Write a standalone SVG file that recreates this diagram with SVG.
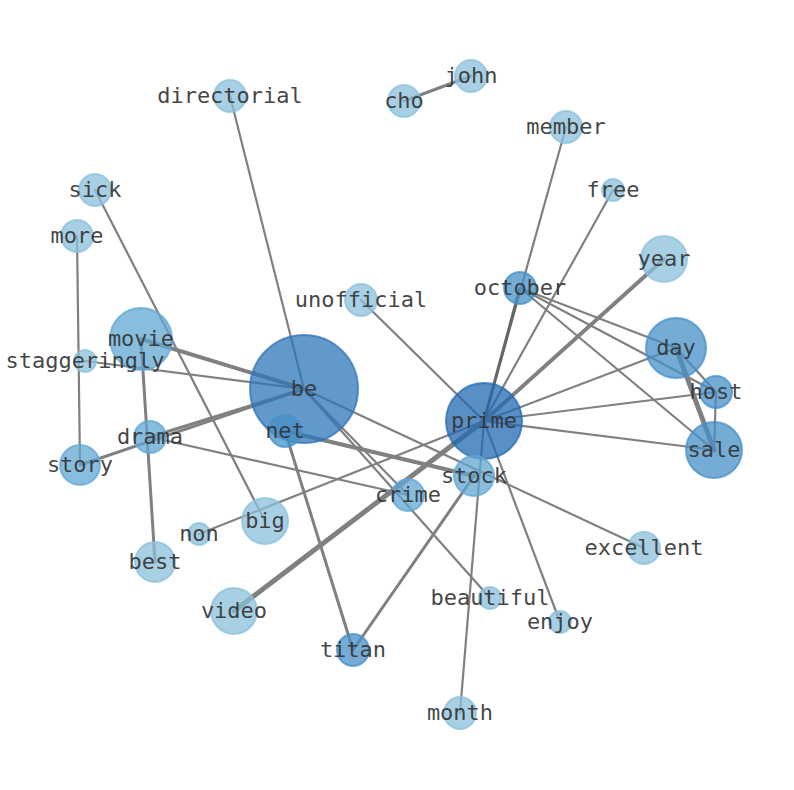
<svg xmlns="http://www.w3.org/2000/svg" width="794" height="790" viewBox="0 0 794 790">
<style>
.e{stroke:#808080;fill:none;stroke-linecap:round}
.w2{stroke-width:2.2}
.w3{stroke-width:3}
.w4{stroke-width:4}
.w5{stroke-width:5}
.n{stroke-width:2;fill-opacity:0.75;stroke-opacity:0.75}
.l{fill:#8bc0dc;stroke:#8bc0dc}
.m{fill:#62a7d3;stroke:#62a7d3}
.d{fill:#4590c8;stroke:#4590c8}
.b{fill:#2f76ba;stroke:#2f76ba}
.p{fill:#236ab2;stroke:#236ab2}
text{font-family:"DejaVu Sans Mono","Liberation Mono",monospace;font-size:22px;fill:#333;fill-opacity:0.92;text-anchor:middle;dominant-baseline:central}
</style>
<rect width="794" height="790" fill="#fff"/>
<g id="edges">
<line class="e w3" x1="404" y1="101" x2="471" y2="76"/>
<line class="e w2" x1="230" y1="96" x2="304" y2="389"/>
<line class="e w2" x1="566" y1="127" x2="484" y2="421"/>
<line class="e w2" x1="613" y1="190" x2="484" y2="421"/>
<line class="e w2" x1="95" y1="190" x2="265" y2="521"/>
<line class="e w2" x1="77" y1="236" x2="80" y2="465"/>
<line class="e w2" x1="85" y1="361" x2="304" y2="389"/>
<line class="e w4" x1="141" y1="339" x2="304" y2="389"/>
<line class="e w3" x1="141" y1="339" x2="155" y2="562"/>
<line class="e w3" x1="80" y1="465" x2="304" y2="389"/>
<line class="e w3" x1="150" y1="437" x2="304" y2="389"/>
<line class="e w2" x1="150" y1="437" x2="408" y2="495"/>
<line class="e w2" x1="304" y1="389" x2="644" y2="548"/>
<line class="e w2" x1="304" y1="389" x2="408" y2="495"/>
<line class="e w2" x1="304" y1="389" x2="490" y2="598"/>
<line class="e w4" x1="285" y1="431" x2="474" y2="476"/>
<line class="e w3" x1="285" y1="431" x2="353" y2="650"/>
<line class="e w2" x1="361" y1="300" x2="484" y2="421"/>
<line class="e w3" x1="520" y1="288" x2="484" y2="421" style="stroke:#666"/>
<line class="e w2" x1="520" y1="288" x2="676" y2="348"/>
<line class="e w2" x1="520" y1="288" x2="716" y2="392"/>
<line class="e w2" x1="520" y1="288" x2="714" y2="450"/>
<line class="e w4" x1="664" y1="259" x2="484" y2="421"/>
<line class="e w5" x1="234" y1="611" x2="484" y2="421"/>
<line class="e w2" x1="484" y1="421" x2="676" y2="348"/>
<line class="e w2" x1="484" y1="421" x2="716" y2="392"/>
<line class="e w2" x1="484" y1="421" x2="714" y2="450"/>
<line class="e w5" x1="676" y1="348" x2="714" y2="450"/>
<line class="e w2" x1="676" y1="348" x2="716" y2="392"/>
<line class="e w2" x1="716" y1="392" x2="714" y2="450"/>
<line class="e w2" x1="484" y1="421" x2="460" y2="713"/>
<line class="e w2" x1="484" y1="421" x2="560" y2="622"/>
<line class="e w2" x1="199" y1="534" x2="484" y2="421"/>
<line class="e w3" x1="474" y1="476" x2="353" y2="650"/>
</g>
<g id="node-john"><circle class="n l" cx="471" cy="76" r="16"/><text x="471" y="75">john</text></g>
<g id="node-cho"><circle class="n l" cx="404" cy="101" r="16"/><text x="404" y="100">cho</text></g>
<g id="node-directorial"><circle class="n l" cx="230" cy="96" r="16"/><text x="230" y="95">directorial</text></g>
<g id="node-member"><circle class="n l" cx="566" cy="127" r="16"/><text x="566" y="126">member</text></g>
<g id="node-sick"><circle class="n l" cx="95" cy="190" r="16"/><text x="95" y="189">sick</text></g>
<g id="node-free"><circle class="n l" cx="613" cy="190" r="11"/><text x="613" y="189">free</text></g>
<g id="node-more"><circle class="n l" cx="77" cy="236" r="16"/><text x="77" y="235">more</text></g>
<g id="node-year"><circle class="n l" cx="664" cy="259" r="23"/><text x="664" y="258">year</text></g>
<g id="node-october"><circle class="n d" cx="520" cy="288" r="16"/><text x="520" y="287">october</text></g>
<g id="node-unofficial"><circle class="n l" cx="361" cy="300" r="16"/><text x="361" y="299">unofficial</text></g>
<g id="node-movie"><circle class="n m" cx="141" cy="339" r="31"/><text x="141" y="338">movie</text></g>
<g id="node-staggeringly"><circle class="n l" cx="85" cy="361" r="11"/><text x="85" y="360">staggeringly</text></g>
<g id="node-day"><circle class="n d" cx="676" cy="348" r="30"/><text x="676" y="347">day</text></g>
<g id="node-be"><circle class="n b" cx="304" cy="389" r="54"/><text x="304" y="388">be</text></g>
<g id="node-net"><circle class="n d" cx="285" cy="431" r="16"/><text x="285" y="430">net</text></g>
<g id="node-host"><circle class="n d" cx="716" cy="392" r="16"/><text x="716" y="391">host</text></g>
<g id="node-prime"><circle class="n p" cx="484" cy="421" r="38"/><text x="484" y="420">prime</text></g>
<g id="node-drama"><circle class="n m" cx="150" cy="437" r="16"/><text x="150" y="436">drama</text></g>
<g id="node-sale"><circle class="n d" cx="714" cy="450" r="28"/><text x="714" y="449">sale</text></g>
<g id="node-story"><circle class="n m" cx="80" cy="465" r="20"/><text x="80" y="464">story</text></g>
<g id="node-stock"><circle class="n m" cx="474" cy="476" r="20"/><text x="474" y="475">stock</text></g>
<g id="node-crime"><circle class="n m" cx="408" cy="495" r="16"/><text x="408" y="494">crime</text></g>
<g id="node-big"><circle class="n l" cx="265" cy="521" r="23"/><text x="265" y="520">big</text></g>
<g id="node-non"><circle class="n l" cx="199" cy="534" r="11"/><text x="199" y="533">non</text></g>
<g id="node-best"><circle class="n l" cx="155" cy="562" r="20"/><text x="155" y="561">best</text></g>
<g id="node-excellent"><circle class="n l" cx="644" cy="548" r="16"/><text x="644" y="547">excellent</text></g>
<g id="node-video"><circle class="n l" cx="234" cy="611" r="23"/><text x="234" y="610">video</text></g>
<g id="node-beautiful"><circle class="n l" cx="490" cy="598" r="11"/><text x="490" y="597">beautiful</text></g>
<g id="node-enjoy"><circle class="n l" cx="560" cy="622" r="11"/><text x="560" y="621">enjoy</text></g>
<g id="node-titan"><circle class="n d" cx="353" cy="650" r="16"/><text x="353" y="649">titan</text></g>
<g id="node-month"><circle class="n l" cx="460" cy="713" r="16"/><text x="460" y="712">month</text></g>
</svg>
